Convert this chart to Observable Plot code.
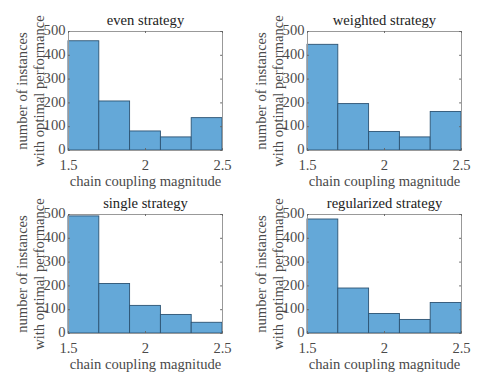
<!DOCTYPE html>
<html>
<head>
<meta charset="utf-8">
<script src="https://cdn.jsdelivr.net/npm/d3@7"></script>
<script src="https://cdn.jsdelivr.net/npm/@observablehq/plot@0.6"></script>
<style>
  html, body { margin: 0; padding: 0; background: #fff; }
  #root { position: relative; width: 493px; height: 381px; overflow: hidden; font-family: 'Liberation Serif', 'Times New Roman', serif; }
  .panel { position: absolute; }
  .panel svg, .panel svg text { font-family: 'Liberation Serif', 'Times New Roman', serif !important; }
</style>
</head>
<body>
<div id="root"></div>
<script>
const binEdges = [1.5, 1.7, 1.9, 2.1, 2.3, 2.5];
const titles = ["even strategy", "weighted strategy", "single strategy", "regularized strategy"];
const evenCounts = [459, 206, 80, 55, 136];
const weightedCounts = [444, 195, 78, 55, 162];
const singleCounts = [492, 208, 116, 78, 45];
const regularizedCounts = [479, 189, 82, 57, 128];
const xTicks = [1.5, 2, 2.5];
const yTicks = [0, 100, 200, 300, 400, 500];
const xLabel = "chain coupling magnitude";
const yLabel1 = "number of instances";
const yLabel2 = "with optimal performance";

const allCounts = [evenCounts, weightedCounts, singleCounts, regularizedCounts];
const positions = [[0, 0], [239, 0], [0, 183], [239, 183]];

const FONT = "'Liberation Serif', 'Times New Roman', serif";
const fill = "#64a8d8";
const edge = "#2c5373";
const axisColor = "#262626";
const FS = 14.6;

allCounts.forEach((counts, i) => {
  const rows = counts.map((c, j) => ({x1: binEdges[j], x2: binEdges[j + 1], y: c}));
  const tx = 0.012, ty = 8;
  const chart = Plot.plot({
    width: 246, height: 190,
    marginLeft: 68, marginRight: 24, marginTop: 31, marginBottom: 40,
    style: {fontFamily: FONT, fontSize: FS + "px", color: axisColor, background: "transparent", overflow: "visible"},
    x: {domain: [1.5, 2.5]},
    y: {domain: [0, 500]},
    marks: [
      Plot.rectY(rows, {x1: "x1", x2: "x2", y: "y", fill, stroke: edge, strokeWidth: 0.9, inset: 0}),
      Plot.frame({stroke: "#999", strokeWidth: 1}),
      Plot.ruleY(yTicks, {y: d => d, x1: 1.5, x2: 1.5 + tx, stroke: "#666"}),
      Plot.ruleY(yTicks, {y: d => d, x1: 2.5 - tx, x2: 2.5, stroke: "#666"}),
      Plot.ruleX(xTicks, {x: d => d, y1: 0, y2: ty, stroke: "#666"}),
      Plot.ruleX(xTicks, {x: d => d, y1: 500 - ty, y2: 500, stroke: "#666"}),
      Plot.axisY(yTicks, {tickSize: 0, tickPadding: 3, fontSize: FS, label: null, tickFormat: d => String(d), fill: "#4a4a4a", dy: -1}),
      Plot.axisX(xTicks, {tickSize: 0, tickPadding: 9, fontSize: FS, label: null, tickFormat: d => String(d), fill: "#4a4a4a"}),
      Plot.text([titles[i]], {frameAnchor: "top", dy: -7, lineAnchor: "bottom", fontSize: FS, fill: "#222"}),
      Plot.text([xLabel], {frameAnchor: "bottom", dy: 31, lineAnchor: "middle", fontSize: FS, fill: "#4a4a4a"}),
      Plot.text([yLabel1], {frameAnchor: "left", dx: -46, rotate: -90, lineAnchor: "middle", textAnchor: "middle", fontSize: FS, fill: "#4a4a4a"}),
      Plot.text([yLabel2], {frameAnchor: "left", dx: -29, rotate: -90, lineAnchor: "middle", textAnchor: "middle", fontSize: FS, fill: "#4a4a4a"})
    ]
  });
  const div = document.createElement("div");
  div.className = "panel";
  div.style.left = positions[i][0] + "px";
  div.style.top = positions[i][1] + "px";
  div.appendChild(chart);
  document.getElementById("root").appendChild(div);
});
</script>
</body>
</html>
